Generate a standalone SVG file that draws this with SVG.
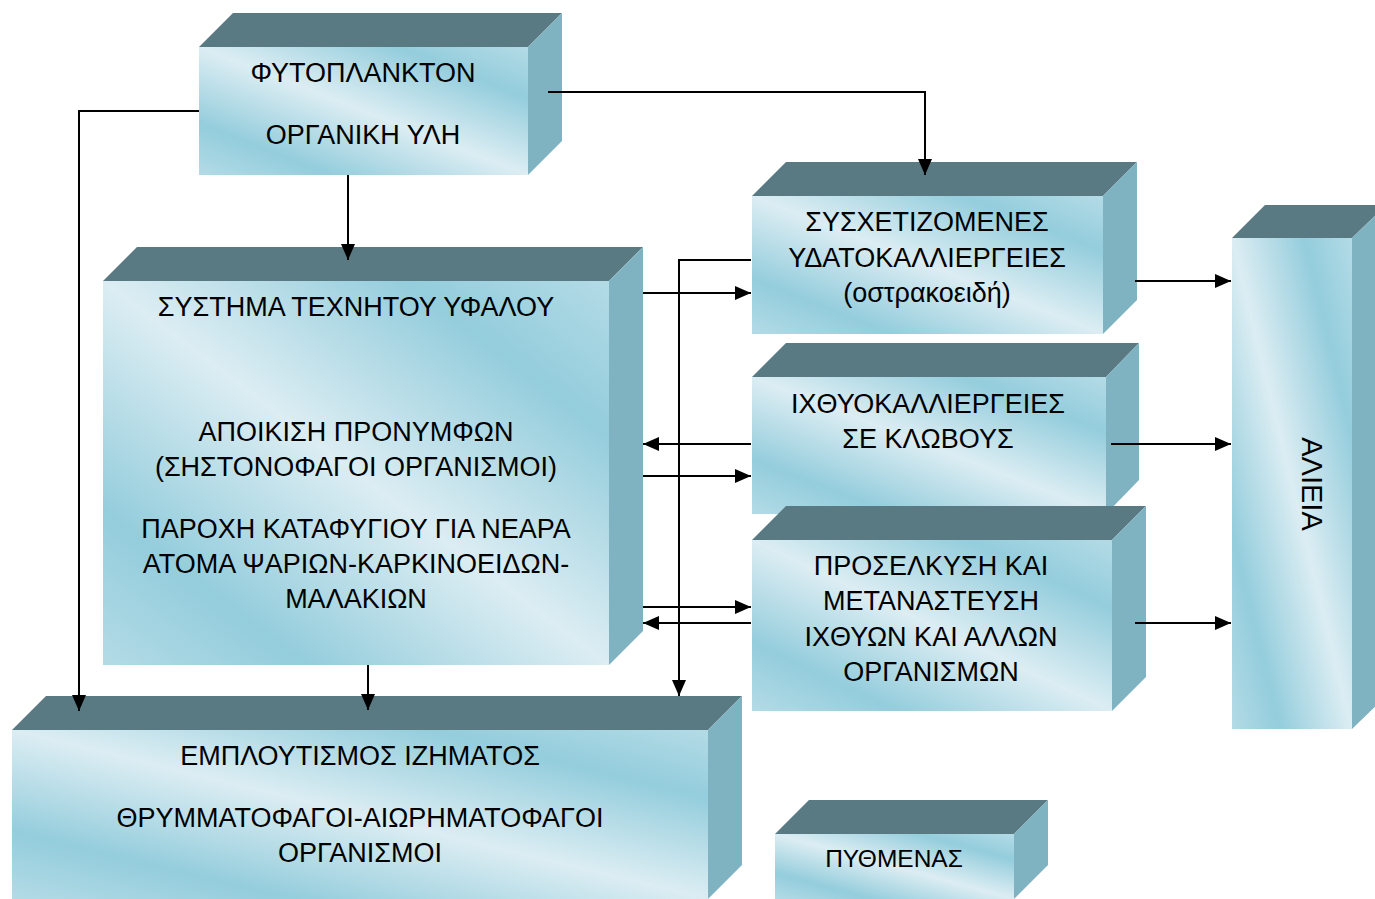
<svg xmlns="http://www.w3.org/2000/svg" width="1375" height="899" viewBox="0 0 1375 899">
<defs>
<linearGradient id="face" x1="1" y1="0" x2="0" y2="1">
<stop offset="0" stop-color="#b3dbe6"/>
<stop offset="0.2" stop-color="#94cddc"/>
<stop offset="0.5" stop-color="#dcedf3"/>
<stop offset="0.8" stop-color="#94cddc"/>
<stop offset="1" stop-color="#b3dbe6"/>
</linearGradient>
<marker id="ah" markerUnits="userSpaceOnUse" markerWidth="18" markerHeight="14" refX="16" refY="7" orient="auto">
<path d="M0,0 L16,7 L0,14 z" fill="#000"/>
</marker>
</defs>
<style>
.top{fill:#597a82}
.side{fill:#80b3c2}
.front{fill:url(#face)}
text{font-family:"Liberation Sans",Arial,sans-serif;font-size:27px;fill:#000;text-anchor:middle}
.c{fill:none;stroke:#000;stroke-width:2;marker-end:url(#ah)}
</style>
<rect width="1375" height="899" fill="#fff"/>
<g id="fytoplankton">
<polygon class="top" points="199,47 233,13 562,13 528,47"/>
<polygon class="side" points="528,47 562,13 562,141 528,175"/>
<rect class="front" x="199" y="47" width="329" height="128"/>
<text x="363" y="82">ΦΥΤΟΠΛΑΝΚΤΟΝ</text>
<text x="363" y="144">ΟΡΓΑΝΙΚΗ ΥΛΗ</text>
</g>
<g id="systima">
<polygon class="top" points="103,281 137,247 643,247 609,281"/>
<polygon class="side" points="609,281 643,247 643,631 609,665"/>
<rect class="front" x="103" y="281" width="506" height="384"/>
<text x="356" y="316">ΣΥΣΤΗΜΑ ΤΕΧΝΗΤΟΥ ΥΦΑΛΟΥ</text>
<text x="356" y="441">ΑΠΟΙΚΙΣΗ ΠΡΟΝΥΜΦΩΝ</text>
<text x="356" y="476">(ΣΗΣΤΟΝΟΦΑΓΟΙ ΟΡΓΑΝΙΣΜΟΙ)</text>
<text x="356" y="538">ΠΑΡΟΧΗ ΚΑΤΑΦΥΓΙΟΥ ΓΙΑ ΝΕΑΡΑ</text>
<text x="356" y="573">ΑΤΟΜΑ ΨΑΡΙΩΝ-ΚΑΡΚΙΝΟΕΙΔΩΝ-</text>
<text x="356" y="608">ΜΑΛΑΚΙΩΝ</text>
</g>
<g id="ydatokalliergeies">
<polygon class="top" points="752,196 786,162 1137,162 1103,196"/>
<polygon class="side" points="1103,196 1137,162 1137,300 1103,334"/>
<rect class="front" x="752" y="196" width="351" height="138"/>
<text x="927" y="231">ΣΥΣΧΕΤΙΖΟΜΕΝΕΣ</text>
<text x="927" y="267">ΥΔΑΤΟΚΑΛΛΙΕΡΓΕΙΕΣ</text>
<text x="927" y="302">(οστρακοειδή)</text>
</g>
<g id="ixthyokalliergeies">
<polygon class="top" points="752,377 786,343 1139,343 1106,377"/>
<polygon class="side" points="1106,377 1139,343 1139,480 1106,514"/>
<rect class="front" x="752" y="377" width="354" height="137"/>
<text x="928" y="413">ΙΧΘΥΟΚΑΛΛΙΕΡΓΕΙΕΣ</text>
<text x="928" y="448">ΣΕ ΚΛΩΒΟΥΣ</text>
</g>
<g id="proselkysi">
<polygon class="top" points="752,540 786,506 1146,506 1112,540"/>
<polygon class="side" points="1112,540 1146,506 1146,677 1112,711"/>
<rect class="front" x="752" y="540" width="360" height="171"/>
<text x="931" y="575">ΠΡΟΣΕΛΚΥΣΗ ΚΑΙ</text>
<text x="931" y="610">ΜΕΤΑΝΑΣΤΕΥΣΗ</text>
<text x="931" y="646">ΙΧΘΥΩΝ ΚΑΙ ΑΛΛΩΝ</text>
<text x="931" y="681">ΟΡΓΑΝΙΣΜΩΝ</text>
</g>
<g id="alieia">
<polygon class="top" points="1232,238 1265,205 1386,205 1352,238"/>
<polygon class="side" points="1352,238 1386,205 1386,696 1352,729"/>
<rect class="front" x="1232" y="238" width="120" height="491"/>
<text transform="translate(1302,484) rotate(90)" x="0" y="0" style="font-size:29px">ΑΛΙΕΙΑ</text>
</g>
<g id="emploutismos">
<polygon class="top" points="12,730 46,696 742,696 708,730"/>
<polygon class="side" points="708,730 742,696 742,865 708,899"/>
<rect class="front" x="12" y="730" width="696" height="169"/>
<text x="360" y="765">ΕΜΠΛΟΥΤΙΣΜΟΣ ΙΖΗΜΑΤΟΣ</text>
<text x="360" y="827">ΘΡΥΜΜΑΤΟΦΑΓΟΙ-ΑΙΩΡΗΜΑΤΟΦΑΓΟΙ</text>
<text x="360" y="862">ΟΡΓΑΝΙΣΜΟΙ</text>
</g>
<g id="pythmenas">
<polygon class="top" points="775,834 809,800 1048,800 1014,834"/>
<polygon class="side" points="1014,834 1048,800 1048,865 1014,899"/>
<rect class="front" x="775" y="834" width="239" height="65"/>
<text x="894" y="867" style="font-size:24.5px">ΠΥΘΜΕΝΑΣ</text>
</g>
<g id="connectors">
<path class="c" d="M199,111 H79 V711"/>
<path class="c" d="M348,175 V260"/>
<path class="c" d="M548,92 H925 V175"/>
<path class="c" d="M643,293 H751"/>
<path class="c" d="M751,260 H679 V696"/>
<path class="c" d="M751,444 H643"/>
<path class="c" d="M643,476 H751"/>
<path class="c" d="M643,607 H751"/>
<path class="c" d="M751,623 H643"/>
<path class="c" d="M368,665 V710"/>
<path class="c" d="M1135,281 H1231"/>
<path class="c" d="M1111,444 H1231"/>
<path class="c" d="M1135,623 H1231"/>
</g>
</svg>
